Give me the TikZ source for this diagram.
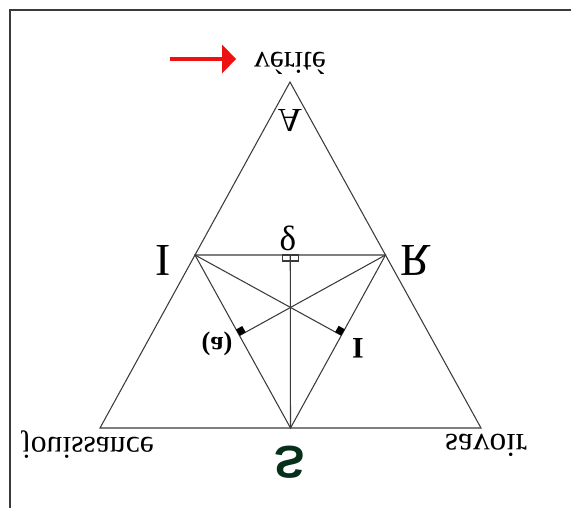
\documentclass[tikz,border=0pt]{standalone}
\usepackage{fontspec}
\setmainfont{Liberation Serif}
\newfontfamily\lettersans{Liberation Sans}
\usepackage{graphicx}
\usetikzlibrary{arrows.meta,calc,positioning}
\definecolor{edgegray}{HTML}{3A3A3A}
\definecolor{arrowred}{HTML}{EE1111}
\definecolor{sgreen}{HTML}{06301A}
\newcommand{\upsd}[1]{\scalebox{1}[-1]{#1}}

\begin{document}
\begin{tikzpicture}[x=0.02cm, y=-0.02cm, >=Stealth,
  edge/.style={draw=edgegray, line width=0.6pt},
  word/.style={font=\fontsize{18}{20}\selectfont, inner sep=0pt},
  bigletter/.style={font=\fontsize{26}{28}\selectfont, inner sep=0pt},
  redarrow/.style={draw=arrowred, line width=2.8pt, -{Triangle[length=8pt, width=16pt]}}]
\useasboundingbox (0,0) rectangle (571,508);
\draw[line width=0.8pt, edgegray] (10,508) -- (10,10) -- (571,10);
% outer triangle and its middles
\coordinate (top) at (290,82);
\coordinate (jl) at (100,428);
\coordinate (sr) at (481,428);
\coordinate (I) at ($(top)!0.5!(jl)$);
\coordinate (R) at ($(top)!0.5!(sr)$);
\coordinate (S) at ($(jl)!0.5!(sr)$);
\coordinate (M) at ($(I)!0.5!(R)$);
\coordinate (fI) at ($(I)!(R)!(S)$);
\coordinate (fR) at ($(R)!(I)!(S)$);
\draw[edge] (top) -- (jl) -- (sr) -- cycle;
\draw[edge] (I) -- (R) -- (S) -- cycle;
\draw[edge] (M) -- (S);
\draw[edge] (R) -- (fI);
\draw[edge] (I) -- (fR);
% right angle marks
\draw[edge] ($(M)+(-8,0)$) rectangle ($(M)+(8,6)$);
\coordinate (a1) at ($(fI)!4pt!(I)$);
\coordinate (a2) at ($(fI)!4pt!(R)$);
\fill (fI) -- (a1) -- ($(a1)+(a2)-(fI)$) -- (a2) -- cycle;
\coordinate (b1) at ($(fR)!4pt!(R)$);
\coordinate (b2) at ($(fR)!4pt!(I)$);
\fill (fR) -- (b1) -- ($(b1)+(b2)-(fR)$) -- (b2) -- cycle;
% labels
\node[word] (verite) at (290,63) {\upsd{vérité}};
\coordinate (arrowtail) at (170,59);
\draw[redarrow, shorten >=10pt] (arrowtail) -- (verite.west |- arrowtail);
\node[font=\fontsize{19}{21}\selectfont, inner sep=0pt] (A) at (290,121) {\upsd{A}};
\node[bigletter] (Ilab) at (163,260) {\upsd{I}};
\node[bigletter] (Rlab) at (416,260) {\upsd{R}};
\node[font=\fontsize{20}{22}\selectfont, inner sep=0pt] (delta) at (288,238) {δ};
\node[font=\fontsize{15}{17}\selectfont\bfseries, inner sep=0pt] (a) at (217,344) {\upsd{(a)}};
\node[font=\fontsize{17}{19}\selectfont\bfseries, inner sep=0pt] (Ib) at (358,348) {\upsd{I}};
\node[word] (jouis) at (88,445) {\upsd{jouissance}};
\node[font=\fontsize{19}{21}\selectfont, inner sep=0pt] (savoir) at (486,445) {\upsd{savoir}};
\node[font=\lettersans\fontsize{26}{28}\selectfont\bfseries, text=sgreen, inner sep=0pt] (Slab) at (290,462) {\upsd{S}};
\end{tikzpicture}
\end{document}
